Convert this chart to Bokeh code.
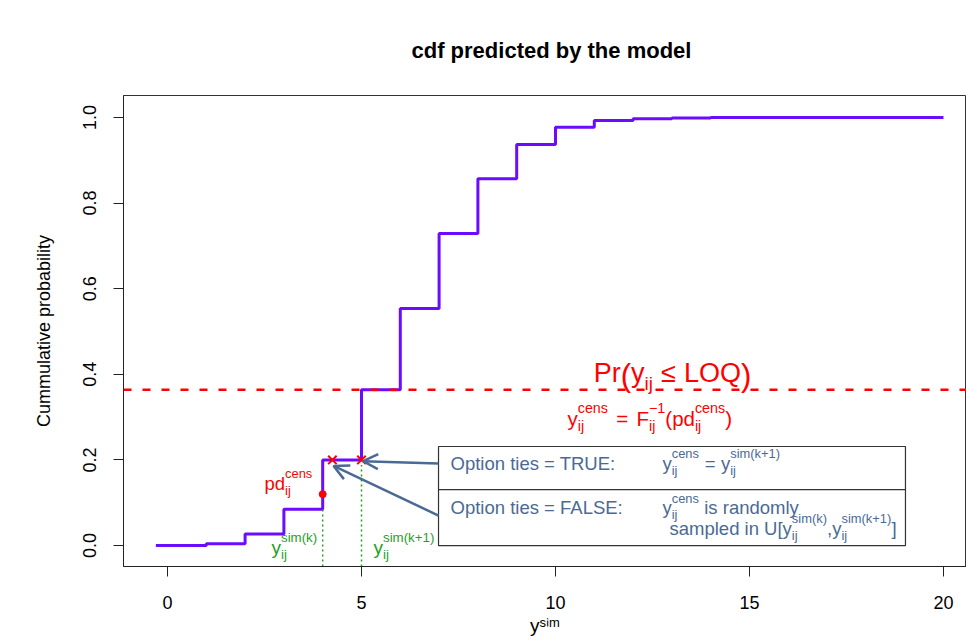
from bokeh.plotting import figure
from bokeh.models import (Range1d, FixedTicker, PrintfTickFormatter, Span, Arrow,
                          OpenHead, ColumnDataSource)
from bokeh.core.properties import value
from bokeh.embed import file_html
from bokeh.resources import INLINE

# ---------------- data ----------------
y_sim = [-0.3, 1, 2, 3, 4, 5, 6, 7, 8, 9, 10, 11, 12, 13, 14, 15, 16, 17, 18, 19, 20]
cdf = [0.0, 0.004, 0.027, 0.085, 0.200, 0.364, 0.554, 0.729, 0.857, 0.937, 0.977,
       0.993, 0.997, 0.999, 1.0, 1.0, 1.0, 1.0, 1.0, 1.0, 1.0]
loq_prob = 0.364
pd_cens = 0.12
sim_k = 4
sim_k1 = 5
cross_x = [4.25, 5.0]
cross_y = [0.2, 0.2]
x_ticks = [0, 5, 10, 15, 20]
y_ticks = [0.0, 0.2, 0.4, 0.6, 0.8, 1.0]

# ---------------- layout ----------------
XMIN, XMAX = -1.134, 20.593
YMIN, YMAX = -0.049, 1.0514
FW, FH = 843, 471
PX_X = FW / (XMAX - XMIN)
PX_Y = FH / (YMAX - YMIN)
TEXT_DY = 6.5  # pixel correction for baseline placement

FONT = "Liberation Sans"
RED = "#ff0000"
GREEN = "#1f9f1f"
STEEL = "#4a6a94"
VIOLET = "#6c0cff"

p = figure(frame_width=FW, frame_height=FH, x_range=Range1d(XMIN, XMAX),
           y_range=Range1d(YMIN, YMAX), output_backend="svg", toolbar_location=None,
           min_border_left=123, min_border_right=0, min_border_top=95,
           min_border_bottom=74, title="cdf predicted by the model")
p.background_fill_color = "white"
p.border_fill_color = "white"
p.xgrid.visible = False
p.ygrid.visible = False
p.outline_line_color = "#333333"
p.outline_line_width = 1

p.title.text_font = FONT
p.title.text_font_style = "bold"
p.title.text_font_size = "22px"
p.title.text_color = "#000000"
p.title.align = "left"
p.title.offset = 288
p.title.standoff = 66

for ax in (p.xaxis[0], p.yaxis[0]):
    ax.axis_line_color = "#222222"
    ax.major_tick_line_color = "#222222"
    ax.major_tick_out = 10
    ax.major_tick_in = 0
    ax.minor_tick_line_color = None
    ax.major_label_text_font = FONT
    ax.major_label_text_font_size = "18px"
    ax.major_label_text_color = "#000000"
    ax.axis_label_text_font = FONT
    ax.axis_label_text_font_size = "18px"
    ax.axis_label_text_font_style = "normal"
    ax.axis_label_text_color = "#000000"

p.xaxis.ticker = FixedTicker(ticks=x_ticks)
p.xaxis.major_label_standoff = 19
p.xaxis.axis_label = "yˢⁱᵐ"
p.xaxis.axis_label_text_font_size = "19px"
p.xaxis.axis_label_standoff = 3
p.yaxis.ticker = FixedTicker(ticks=y_ticks)
p.yaxis.formatter = PrintfTickFormatter(format="%.1f")
p.yaxis.major_label_orientation = "vertical"
p.yaxis.major_label_standoff = 17
p.yaxis.axis_label = "Cummulative probability"
p.yaxis.axis_label_standoff = 27

# ---------------- marks ----------------
p.step(y_sim, cdf, mode="after", line_color=VIOLET, line_width=3)

p.add_layout(Span(location=loq_prob, dimension="width", line_color=RED,
                  line_width=2.5, line_dash="8 11"))

p.segment(x0=[sim_k, sim_k1], y0=[YMIN, YMIN], x1=[sim_k, sim_k1],
          y1=[cdf[3], cross_y[1] - 0.012], line_color=GREEN, line_width=1.5,
          line_dash="2 3")

p.scatter(cross_x, cross_y, marker="x", size=12, line_color=RED, line_width=2)
p.scatter([sim_k], [pd_cens], marker="circle", size=7, fill_color=RED, line_color=RED)

# legend-like box
BOX_L, BOX_R, BOX_B, BOX_T, BOX_MID = 6.985, 19.02, 0.0, 0.2313, 0.1308
p.quad(left=[BOX_L], right=[BOX_R], bottom=[BOX_B], top=[BOX_T], fill_color=None,
       line_color="#333333", line_width=1.2)
p.segment(x0=[BOX_L], y0=[BOX_MID], x1=[BOX_R], y1=[BOX_MID], line_color="#333333",
          line_width=1.2)

p.add_layout(Arrow(end=OpenHead(size=15, line_color=STEEL, line_width=2.5),
                   x_start=BOX_L, y_start=0.1916, x_end=5.04, y_end=0.197,
                   line_color=STEEL, line_width=2.5))
p.add_layout(Arrow(end=OpenHead(size=15, line_color=STEEL, line_width=2.5),
                   x_start=BOX_L, y_start=0.070, x_end=4.28, y_end=0.186,
                   line_color=STEEL, line_width=2.5))

# ---------------- rich text helper ----------------
W = {' ': 278, '(': 333, ')': 333, '+': 584, ',': 278, '-': 333, '.': 278, ':': 278,
     '=': 584, '[': 278, ']': 278, '≤': 549, '−': 584,
     'A': 667, 'B': 667, 'C': 722, 'D': 722, 'E': 667, 'F': 611, 'G': 778, 'H': 722,
     'I': 278, 'J': 500, 'K': 667, 'L': 556, 'M': 833, 'N': 722, 'O': 778, 'P': 667,
     'Q': 778, 'R': 722, 'S': 667, 'T': 611, 'U': 722, 'V': 667, 'W': 944, 'X': 667,
     'Y': 667, 'Z': 611,
     'a': 556, 'b': 556, 'c': 500, 'd': 556, 'e': 556, 'f': 278, 'g': 556, 'h': 556,
     'i': 222, 'j': 222, 'k': 500, 'l': 222, 'm': 833, 'n': 556, 'o': 556, 'p': 556,
     'q': 556, 'r': 333, 's': 500, 't': 278, 'u': 556, 'v': 500, 'w': 722, 'x': 500,
     'y': 500, 'z': 500}


def tw(s, size):
    return sum(W.get(c, 556) for c in s) * size / 1000.0


def rich(parts, x0, y0, size, color, align="left"):
    ss = size * 0.7
    pieces = []
    cx = 0.0
    for part in parts:
        kind = part[0]
        if kind == "n":
            pieces.append((part[1], cx, 0.0, size))
            cx += tw(part[1], size)
        elif kind == "sup":
            pieces.append((part[1], cx, 0.5 * size, ss))
            cx += tw(part[1], ss)
        elif kind == "sub":
            pieces.append((part[1], cx, -0.4 * size, ss))
            cx += tw(part[1], ss)
        elif kind == "ss":
            pieces.append((part[1], cx, 0.5 * size, ss))
            pieces.append((part[2], cx, -0.4 * size, ss))
            cx += max(tw(part[1], ss), tw(part[2], ss))
        elif kind == "sp":
            cx += part[1] * size
        elif kind == "big":
            pieces.append((part[1], cx, part[3], part[2]))
            cx += tw(part[1], part[2])
    shift = {"left": 0.0, "center": -cx / 2.0, "right": -cx}[align]
    src = ColumnDataSource(dict(
        x=[x0 + (pc[1] + shift) / PX_X for pc in pieces],
        y=[y0 + (pc[2] + TEXT_DY) / PX_Y for pc in pieces],
        t=[pc[0] for pc in pieces],
        fs=["%.1fpx" % pc[3] for pc in pieces]))
    p.text(x="x", y="y", text="t", text_font_size="fs", source=src,
           text_color=color, text_font=value(FONT), text_baseline="alphabetic",
           text_align="left")


def px_x(px):
    return XMIN + (px - 123) / PX_X


def px_y(py):
    return YMIN + (566 - py) / PX_Y


# Pr(y_ij <= LOQ)
rich([("n", "Pr"), ("big", "(", 31, -2), ("n", "y"), ("sub", "ij"), ("sp", 0.3),
      ("n", "≤"), ("sp", 0.3), ("n", "LOQ"), ("big", ")", 31, -2)],
     px_x(672), px_y(379), 27, RED, align="center")

# y_ij^cens = F_ij^-1(pd_ij^cens)
rich([("n", "y"), ("ss", "cens", "ij"), ("sp", 0.4), ("n", "="), ("sp", 0.4),
      ("n", "F"), ("ss", "−1", "ij"), ("n", "(pd"), ("ss", "cens", "ij"), ("n", ")")],
     px_x(567), px_y(424), 20.5, RED)

# pd_ij^cens
rich([("n", "pd"), ("ss", "cens", "ij")], px_x(264), px_y(489), 18.5, RED)

# green labels
rich([("n", "y"), ("ss", "sim(k)", "ij")], px_x(271), px_y(553), 19, GREEN)
rich([("n", "y"), ("ss", "sim(k+1)", "ij")], px_x(373), px_y(553), 19, GREEN)

# box texts
BS = 18.5
rich([("n", "Option ties = TRUE:")], px_x(450), px_y(469), BS, STEEL)
rich([("n", "y"), ("ss", "cens", "ij"), ("sp", 0.3), ("n", "="), ("sp", 0.3),
      ("n", "y"), ("ss", "sim(k+1)", "ij")], px_x(662), px_y(469), BS, STEEL)
rich([("n", "Option ties = FALSE:")], px_x(450), px_y(513.5), BS, STEEL)
rich([("n", "y"), ("ss", "cens", "ij"), ("sp", 0.278), ("n", "is randomly")],
     px_x(662), px_y(513.5), BS, STEEL)
rich([("n", "sampled in U[y"), ("ss", "sim(k)", "ij"), ("n", ",y"),
      ("ss", "sim(k+1)", "ij"), ("n", "]")], px_x(669), px_y(534), BS, STEEL)

open("out.html", "w").write(file_html(p, INLINE))
